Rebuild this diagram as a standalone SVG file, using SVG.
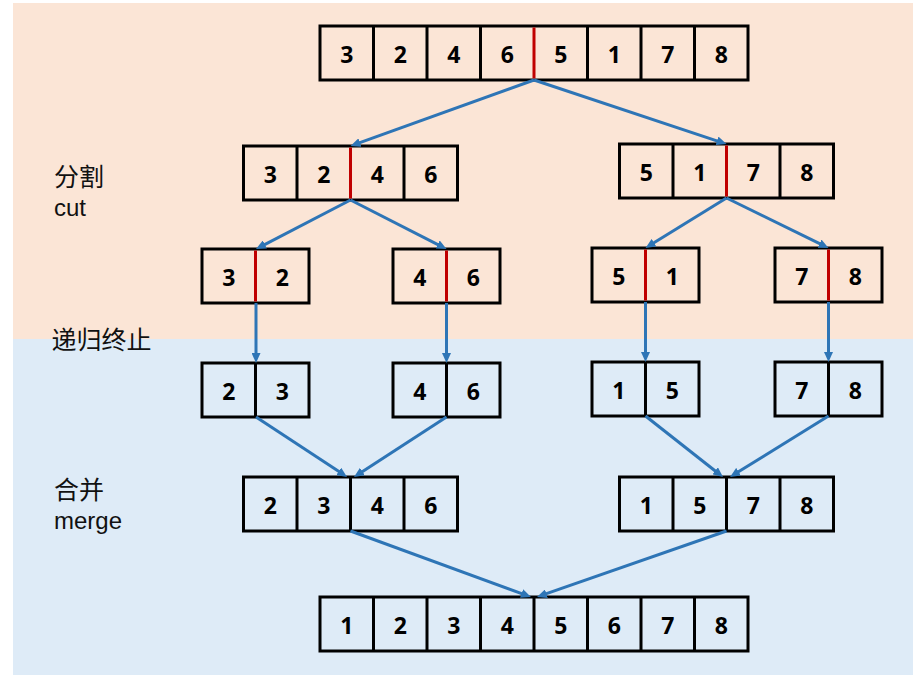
<svg xmlns="http://www.w3.org/2000/svg" width="916" height="677" viewBox="0 0 916 677">
<defs>
<style>
.cell{fill:none;stroke:#000;stroke-width:3}
.div{stroke:#000;stroke-width:3}
.red{stroke:#C00000;stroke-width:3}
.num{font-family:"Open Sans","Liberation Sans",sans-serif;font-weight:bold;font-size:23px;fill:#000;text-anchor:middle}
.cjk{font-family:"Noto Sans CJK SC",sans-serif;font-size:25px;fill:#111}
.lbl{font-family:"Liberation Sans",Arial,sans-serif;font-size:24px;fill:#111}
.arr{stroke:#2E75B6;stroke-width:3;fill:none;marker-end:url(#ah)}
</style>
<marker id="ah" markerUnits="userSpaceOnUse" markerWidth="10" markerHeight="9" refX="3" refY="4.5" orient="auto">
<path d="M0,0 L10,4.5 L0,9 z" fill="#2E75B6"/>
</marker>
</defs>
<rect x="13" y="3" width="900" height="336" fill="#FBE5D6"/>
<rect x="13" y="339" width="900" height="336" fill="#DEEBF7"/>

<g id="labels">
<text class="cjk" x="54" y="186">分割</text>
<text class="lbl" x="54" y="216">cut</text>
<text class="cjk" x="51.5" y="349">递归终止</text>
<text class="cjk" x="54" y="499">合并</text>
<text class="lbl" x="54" y="528.5">merge</text>
</g>

<g id="n1">
<rect class="cell" x="320" y="26" width="428" height="54"/>
<path class="div" d="M373.5,26V80M427,26V80M480.5,26V80M587.5,26V80M641,26V80M694.5,26V80"/>
<path class="red" d="M534,27.5V78.5"/>
<text class="num" y="63"><tspan x="346.75">3</tspan><tspan x="400.25">2</tspan><tspan x="453.75">4</tspan><tspan x="507.25">6</tspan><tspan x="560.75">5</tspan><tspan x="614.25">1</tspan><tspan x="667.75">7</tspan><tspan x="721.25">8</tspan></text>
</g>

<g id="n2l">
<rect class="cell" x="243.5" y="146" width="214" height="54"/>
<path class="div" d="M297,146V200M404,146V200"/>
<path class="red" d="M350.5,147.5V198.5"/>
<text class="num" y="183"><tspan x="270.25">3</tspan><tspan x="323.75">2</tspan><tspan x="377.25">4</tspan><tspan x="430.75">6</tspan></text>
</g>

<g id="n2r">
<rect class="cell" x="619.5" y="144" width="214" height="54"/>
<path class="div" d="M673,144V198M780,144V198"/>
<path class="red" d="M726.5,145.5V196.5"/>
<text class="num" y="181"><tspan x="646.25">5</tspan><tspan x="699.75">1</tspan><tspan x="753.25">7</tspan><tspan x="806.75">8</tspan></text>
</g>

<g id="n3a">
<rect class="cell" x="202" y="249" width="107" height="54"/>
<path class="red" d="M255.5,250.5V301.5"/>
<text class="num" y="286"><tspan x="228.75">3</tspan><tspan x="282.25">2</tspan></text>
</g>
<g id="n3b">
<rect class="cell" x="393" y="249" width="107" height="54"/>
<path class="red" d="M446.5,250.5V301.5"/>
<text class="num" y="286"><tspan x="419.75">4</tspan><tspan x="473.25">6</tspan></text>
</g>
<g id="n3c">
<rect class="cell" x="592" y="248" width="107" height="54"/>
<path class="red" d="M645.5,249.5V300.5"/>
<text class="num" y="285"><tspan x="618.75">5</tspan><tspan x="672.25">1</tspan></text>
</g>
<g id="n3d">
<rect class="cell" x="775" y="248" width="107" height="54"/>
<path class="red" d="M828.5,249.5V300.5"/>
<text class="num" y="285"><tspan x="801.75">7</tspan><tspan x="855.25">8</tspan></text>
</g>

<g id="n4a">
<rect class="cell" x="202" y="363" width="107" height="54"/>
<path class="div" d="M255.5,363V417"/>
<text class="num" y="400"><tspan x="228.75">2</tspan><tspan x="282.25">3</tspan></text>
</g>
<g id="n4b">
<rect class="cell" x="393" y="363" width="107" height="54"/>
<path class="div" d="M446.5,363V417"/>
<text class="num" y="400"><tspan x="419.75">4</tspan><tspan x="473.25">6</tspan></text>
</g>
<g id="n4c">
<rect class="cell" x="592" y="362" width="107" height="54"/>
<path class="div" d="M645.5,362V416"/>
<text class="num" y="399"><tspan x="618.75">1</tspan><tspan x="672.25">5</tspan></text>
</g>
<g id="n4d">
<rect class="cell" x="775" y="362" width="107" height="54"/>
<path class="div" d="M828.5,362V416"/>
<text class="num" y="399"><tspan x="801.75">7</tspan><tspan x="855.25">8</tspan></text>
</g>

<g id="n5l">
<rect class="cell" x="243.5" y="477" width="214" height="54"/>
<path class="div" d="M297,477V531M350.5,477V531M404,477V531"/>
<text class="num" y="514"><tspan x="270.25">2</tspan><tspan x="323.75">3</tspan><tspan x="377.25">4</tspan><tspan x="430.75">6</tspan></text>
</g>
<g id="n5r">
<rect class="cell" x="619.5" y="477" width="214" height="54"/>
<path class="div" d="M673,477V531M726.5,477V531M780,477V531"/>
<text class="num" y="514"><tspan x="646.25">1</tspan><tspan x="699.75">5</tspan><tspan x="753.25">7</tspan><tspan x="806.75">8</tspan></text>
</g>

<g id="n6">
<rect class="cell" x="320" y="597" width="428" height="54"/>
<path class="div" d="M373.5,597V651M427,597V651M480.5,597V651M534,597V651M587.5,597V651M641,597V651M694.5,597V651"/>
<text class="num" y="634"><tspan x="346.75">1</tspan><tspan x="400.25">2</tspan><tspan x="453.75">3</tspan><tspan x="507.25">4</tspan><tspan x="560.75">5</tspan><tspan x="614.25">6</tspan><tspan x="667.75">7</tspan><tspan x="721.25">8</tspan></text>
</g>

<g id="connectors">
<path class="arr" d="M534,80L357.1,143.6"/>
<path class="arr" d="M534,80L719.9,141.8"/>
<path class="arr" d="M350.5,200L262.2,245.8"/>
<path class="arr" d="M350.5,200L440.3,245.8"/>
<path class="arr" d="M726.5,198L651.5,244.3"/>
<path class="arr" d="M726.5,198L822.2,244.9"/>
<path class="arr" d="M256,303V356"/>
<path class="arr" d="M446.5,303V356"/>
<path class="arr" d="M645.5,302V355"/>
<path class="arr" d="M828.5,302V355"/>
<path class="arr" d="M256,417L341.2,473.1"/>
<path class="arr" d="M446.5,417L359.9,473.2"/>
<path class="arr" d="M645.5,416L717.5,472.7"/>
<path class="arr" d="M828.5,416L736,473.3"/>
<path class="arr" d="M350.5,531L524.4,594.6"/>
<path class="arr" d="M726.5,531L543.6,594.7"/>
</g>
</svg>
